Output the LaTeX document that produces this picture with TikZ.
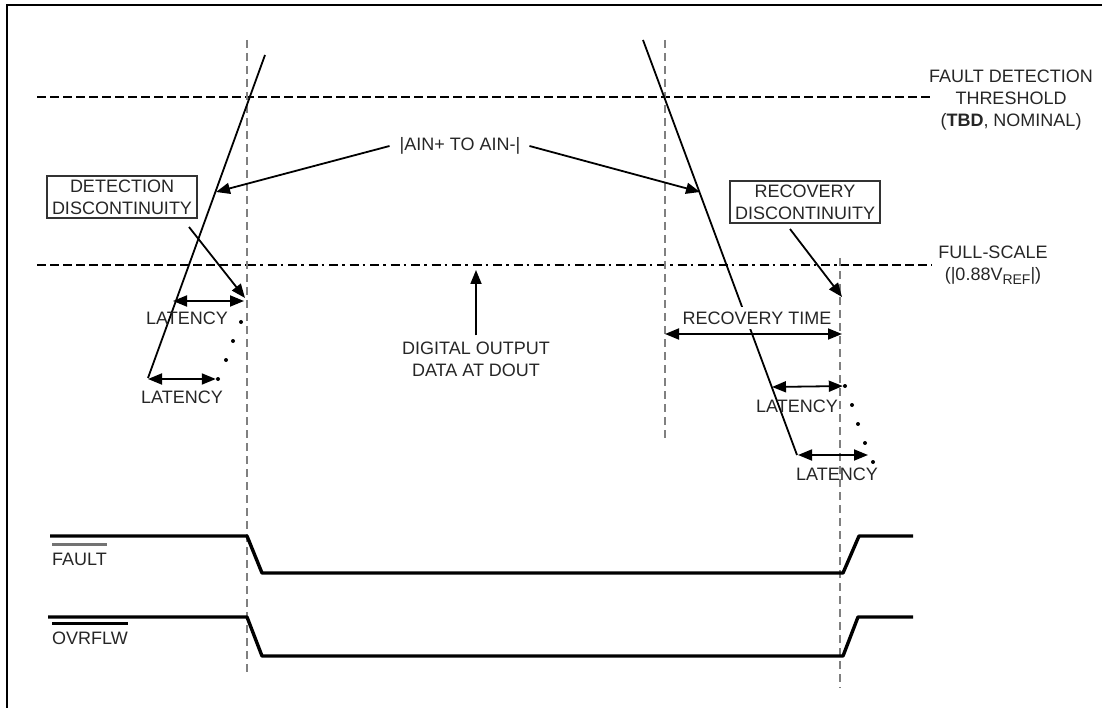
\documentclass[tikz,border=0pt]{standalone}
\usepackage{fontspec}
\setmainfont{Liberation Sans}
\usetikzlibrary{arrows.meta}
\begin{document}
\begin{tikzpicture}[x=1pt,y=-1pt,
  every node/.style={font=\fontsize{18}{22}\selectfont, text=black!85, align=center, inner sep=0pt},
  thr/.style={line width=1.8pt, dash pattern=on 9pt off 4pt},
  dotline/.style={line width=1.8pt, dash pattern=on 9pt off 4pt on 2.5pt off 5pt},
  vdash/.style={line width=2.6pt, black!50, dash pattern=on 8pt off 5pt},
  ramp/.style={line width=1.8pt},
  arr/.style={line width=1.8pt, -{Triangle[length=14pt,width=11pt]}},
  darr/.style={line width=1.8pt, {Triangle[length=14pt,width=11pt]}-{Triangle[length=14pt,width=11pt]}},
  wave/.style={line width=3.4pt, line join=round},
  lbox/.style={draw=black!80, line width=2pt, inner xsep=5pt, inner ysep=4pt},
  dotmark/.style={circle, fill=black, inner sep=0pt, minimum size=4pt}
]
\useasboundingbox (0,0) rectangle (1102,708);
% frame
\coordinate (fbl) at (7,708); \coordinate (ftl) at (7,5); \coordinate (ftr) at (1102,5);
\draw[line width=2.2pt] (fbl) -- (ftl) -- (ftr);

% threshold lines
\coordinate (thL) at (37,97); \coordinate (thR) at (932,97);
\draw[thr] (thL) -- (thR);
\coordinate (fsL) at (37,265); \coordinate (fsA) at (247,265);
\coordinate (fsB) at (840,265); \coordinate (fsR) at (932,265);
\draw[thr] (fsL) -- (fsA);
\draw[dotline] (fsA) -- (fsB);
\draw[thr] (fsB) -- (fsR);

% vertical dashed
\coordinate (v1t) at (247,40); \coordinate (v1b) at (247,672);
\coordinate (v2t) at (665,40); \coordinate (v2b) at (665,440);
\coordinate (v3t) at (840,258); \coordinate (v3b) at (840,688);
\draw[vdash] (v1t) -- (v1b);
\draw[vdash] (v2t) -- (v2b);
\draw[vdash] (v3t) -- (v3b);

% ramps
\coordinate (lrB) at (148,378); \coordinate (lrT) at (265,55);
\coordinate (rrT) at (643,40); \coordinate (rrB) at (797,455);
\draw[ramp] (lrB) -- (lrT);
\draw[ramp] (rrT) -- (rrB);

% AIN label
\node (ain) at (460,146) {|AIN+ TO AIN-|};
\coordinate (ainL) at (216,192); \coordinate (ainR) at (700,192);
\draw[arr] ([xshift=-10pt]ain.west) -- (ainL);
\draw[arr] ([xshift=9pt]ain.east) -- (ainR);

% detection discontinuity
\node[lbox] (detbox) at (122,197) {DETECTION\\DISCONTINUITY};
\coordinate (detS) at (189,227); \coordinate (detE) at (245,298);
\draw[arr] (detS) -- (detE);

% recovery discontinuity
\node[lbox] (recbox) at (805,202) {RECOVERY\\DISCONTINUITY};
\coordinate (recS) at (790,229); \coordinate (recE) at (842,297);
\draw[arr] (recS) -- (recE);

% left latencies
\coordinate (l1a) at (173,301); \coordinate (l1b) at (244,301);
\draw[darr] (l1a) -- (l1b);
\node (lat1) at (187,318) {LATENCY};
\node[dotmark] (d1) at (241,322) {};
\node[dotmark] (d2) at (233,341) {};
\node[dotmark] (d3) at (226,360) {};
\node[dotmark] (d4) at (218,379) {};
\coordinate (l2a) at (148,379);
\draw[darr] (l2a) -- (d4);
\node (lat2) at (182,397) {LATENCY};

% digital output
\node (dig) at (476,359) {DIGITAL OUTPUT\\DATA AT DOUT};
\coordinate (digT) at (476,270);
\draw[arr] ([yshift=6pt]dig.north) -- (digT);

% recovery time
\node[fill=white, inner xsep=3pt, inner ysep=5pt] (rt) at (757,318) {RECOVERY TIME};
\coordinate (rtA) at (665,334); \coordinate (rtB) at (842,334);
\draw[darr] (rtA) -- (rtB);

% right latencies
\node[dotmark] (e0) at (845,386) {};
\coordinate (r1a) at (772,387);
\draw[darr] (r1a) -- (e0);
\node (lat3) at (797,406) {LATENCY};
\node[dotmark] (e1) at (852,405) {};
\node[dotmark] (e2) at (858,424) {};
\node[dotmark] (e3) at (865,443) {};
\node[dotmark] (e4) at (873,462) {};
\coordinate (r2a) at (798,455); \coordinate (r2b) at (868,455);
\draw[darr] (r2a) -- (r2b);
\node (lat4) at (837,474) {LATENCY};

% right labels
\node (fdt) at (1011,100) {FAULT DETECTION\\THRESHOLD\\(\textbf{TBD}, NOMINAL)};
\node (fs) at (993,265) {FULL-SCALE\\(|0.88V\raisebox{-4pt}{\fontsize{14}{14}\selectfont REF}|)};

% waveforms
\coordinate (f0) at (50,536); \coordinate (f1) at (247,536); \coordinate (f2) at (262,573);
\coordinate (f3) at (843,573); \coordinate (f4) at (859,536); \coordinate (f5) at (913,536);
\draw[wave] (f0) -- (f1) -- (f2) -- (f3) -- (f4) -- (f5);
\coordinate (o0) at (48,617); \coordinate (o1) at (247,617); \coordinate (o2) at (262,656);
\coordinate (o3) at (843,656); \coordinate (o4) at (858,617); \coordinate (o5) at (913,617);
\draw[wave] (o0) -- (o1) -- (o2) -- (o3) -- (o4) -- (o5);

\node[anchor=west] (fault) at (52,559) {FAULT};
\draw[line width=2.2pt, black!55] ([yshift=8pt]fault.north west) -- ([yshift=8pt]fault.north east);
\node[anchor=west] (ovr) at (52,638) {OVRFLW};
\draw[line width=2.2pt, black] ([yshift=8pt]ovr.north west) -- ([yshift=8pt]ovr.north east);
\end{tikzpicture}
\end{document}
